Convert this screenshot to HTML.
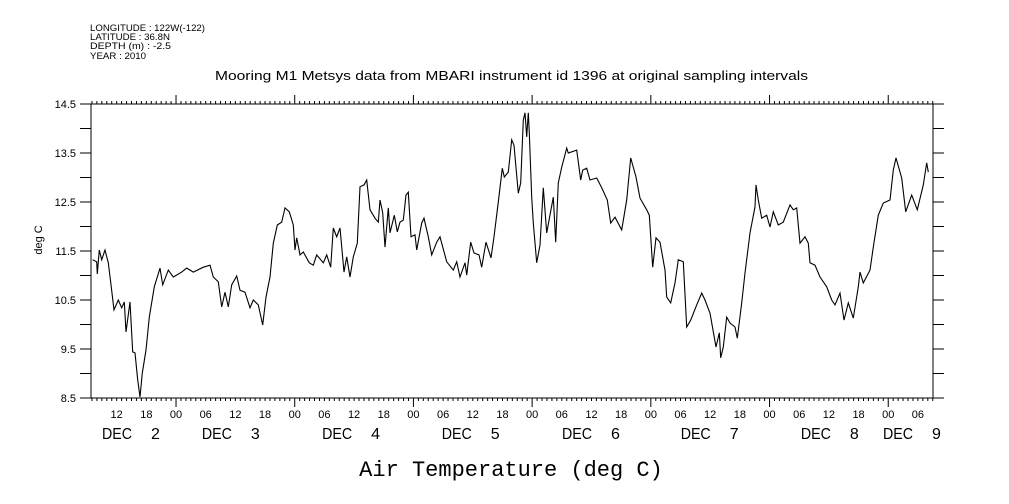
<!DOCTYPE html>
<html><head><meta charset="utf-8"><style>
body{margin:0;background:#fff;}
svg{display:block;}
text{font-family:"Liberation Sans",sans-serif;fill:#000;}
</style></head><body>
<svg id="chart" width="1009" height="504" viewBox="0 0 1009 504" xmlns="http://www.w3.org/2000/svg">
<g font-size="9">
<text x="90" y="31" textLength="115" lengthAdjust="spacingAndGlyphs">LONGITUDE : 122W(-122)</text>
<text x="90" y="40" textLength="80" lengthAdjust="spacingAndGlyphs">LATITUDE : 36.8N</text>
<text x="90" y="49" textLength="81" lengthAdjust="spacingAndGlyphs">DEPTH (m) : -2.5</text>
<text x="90" y="59" textLength="56" lengthAdjust="spacingAndGlyphs">YEAR : 2010</text>
</g>
<text x="215" y="80" font-size="13" textLength="593" lengthAdjust="spacingAndGlyphs">Mooring M1 Metsys data from MBARI instrument id 1396 at original sampling intervals</text>
<text transform="translate(42,240) rotate(-90)" font-size="11" text-anchor="middle">deg C</text>
<text x="511" y="476" font-size="22" text-anchor="middle" style="font-family:'Liberation Mono',monospace">Air Temperature (deg C)</text>
<rect x="91" y="104" width="842" height="294" fill="none" stroke="#000" stroke-width="1"/>
<g id="axes"></g>
<g id="series"></g>
</svg>
<script>
const hours=[7.16,7.97,8.09,8.49,8.98,9.64,10.31,10.86,11.46,12.33,13.02,13.55,13.89,14.70,15.24,15.71,16.26,16.72,17.19,17.93,18.60,19.61,20.76,21.31,22.44,23.45,25.15,26.16,27.50,29.52,30.87,31.54,32.55,33.24,33.91,34.57,35.26,36.27,36.94,37.95,38.96,39.63,40.64,41.53,42.20,43.00,43.67,44.48,45.37,46.04,46.91,47.71,48.06,48.40,49.07,49.74,50.95,51.76,52.44,53.78,54.47,55.28,55.80,56.49,57.16,57.96,58.51,59.18,59.85,60.66,61.20,62.01,62.55,63.22,64.23,64.90,65.24,65.79,66.26,66.92,67.27,68.14,68.74,69.29,69.96,70.50,70.97,71.51,72.32,72.66,73.68,74.14,75.01,75.70,76.71,77.38,78.73,80.06,80.75,81.42,82.43,82.77,83.58,84.25,85.26,85.80,86.68,87.69,88.29,89.16,89.97,90.38,91.18,91.87,92.34,93.20,93.69,94.22,94.56,94.90,95.23,95.43,95.91,96.24,96.93,97.59,98.26,98.95,100.28,100.77,101.30,101.98,102.99,103.31,105.01,105.82,106.23,107.03,107.70,109.06,110.07,111.20,111.89,112.76,114.11,115.12,115.93,117.01,117.81,119.17,119.69,120.38,121.04,121.85,122.86,123.21,124.02,124.88,125.55,126.57,127.25,128.06,129.28,130.29,130.95,131.96,133.18,133.84,134.13,134.65,135.34,136.01,137.02,137.48,138.37,139.04,140.05,141.06,141.26,141.73,142.41,143.42,144.09,144.76,145.77,146.78,148.13,148.80,149.49,150.16,151.17,151.84,152.18,153.19,154.20,155.56,156.57,157.24,158.25,159.06,159.93,160.94,161.95,162.29,162.96,164.31,164.98,165.99,167.00,168.36,169.02,169.57,170.72,171.53,172.74,173.87,175.09,175.77,176.10];
const temps=[11.32,11.28,11.03,11.52,11.32,11.52,11.26,10.81,10.30,10.50,10.34,10.46,9.85,10.46,9.44,9.42,8.87,8.52,9.01,9.48,10.15,10.77,11.15,10.81,11.11,10.97,11.07,11.15,11.07,11.17,11.21,10.97,10.87,10.36,10.66,10.36,10.81,10.99,10.70,10.66,10.34,10.50,10.40,9.99,10.56,10.97,11.66,12.03,12.09,12.38,12.30,12.03,11.52,11.77,11.42,11.48,11.26,11.21,11.42,11.26,11.42,11.17,11.97,11.79,11.97,11.07,11.38,10.97,11.38,11.66,12.81,12.85,12.95,12.34,12.17,12.09,12.54,12.28,11.58,12.38,11.87,12.23,11.89,12.09,12.13,12.64,12.70,11.79,11.83,11.52,12.07,12.17,11.79,11.42,11.68,11.79,11.28,11.11,11.28,10.97,11.26,11.01,11.68,11.46,11.42,11.17,11.68,11.36,11.79,12.50,13.19,13.01,13.11,13.77,13.66,12.68,12.89,14.17,14.32,13.83,14.32,13.91,12.60,12.07,11.26,11.62,12.79,11.87,12.60,11.68,12.89,13.21,13.60,13.50,13.56,12.95,13.15,13.19,12.95,12.99,12.79,12.54,12.07,12.19,11.93,12.54,13.40,13.01,12.58,12.34,12.23,11.17,11.77,11.68,11.11,10.56,10.44,10.85,11.32,11.28,9.95,10.09,10.40,10.64,10.50,10.23,9.54,9.83,9.32,9.54,10.15,10.03,9.95,9.72,10.44,11.05,11.87,12.40,12.85,12.54,12.17,12.23,11.99,12.30,12.03,12.09,12.44,12.34,12.38,11.66,11.79,11.66,11.26,11.21,10.97,10.77,10.50,10.40,10.64,10.09,10.44,10.13,10.77,11.07,10.85,11.11,11.58,12.23,12.48,12.54,13.15,13.40,12.99,12.30,12.64,12.34,12.85,13.30,13.11];
const yTickLabels=["14.5","13.5","12.5","11.5","10.5","9.5","8.5"];
const hourTickLabels=["12","18","00","06"];
const dayLabels=["2","3","4","5","6","7","8","9"];
const dayLabelHours=[14.9,35.1,59.4,83.6,107.9,131.9,156.2,172.8];

const X0=91,X1=933,H0=6.81,H1=177.05,Y0=104,Y1=398,V0=14.5,V1=8.5;
function xs(h){return X0+(h-H0)*(X1-X0)/(H1-H0);}
function ys(v){return Y0+(v-V0)*(Y1-Y0)/(V1-V0);}
const NS="http://www.w3.org/2000/svg";
const axes=document.getElementById('axes');
function mk(tag,attrs,parent){const e=document.createElementNS(NS,tag);for(const k in attrs)e.setAttribute(k,attrs[k]);parent.appendChild(e);return e;}

for(let v=V0;v>=V1-0.001;v-=0.5){
  const y=ys(v);
  const l=mk('line',{x1:80,x2:X0,y1:y,y2:y,stroke:'#000'},axes);
  
  
  const r=mk('line',{x1:X1,x2:944,y1:y,y2:y,stroke:'#000'},axes);
  
  
}
yTickLabels.forEach(s=>{
  const t=mk('text',{x:76,y:ys(parseFloat(s))+4,'font-size':11,'text-anchor':'end'},axes);
  t.textContent=s;
  
  
});
for(let h=Math.ceil(H0);h<=H1;h++){
  const x=xs(h);const major=(h%24===0);
  const len=major?9:3;
  const b=mk('line',{x1:x,x2:x,y1:Y1,y2:Y1+len,stroke:'#000'},axes);
  
  
  const t=mk('line',{x1:x,x2:x,y1:Y0,y2:Y0-len,stroke:'#000'},axes);
  
  
  if(h%6===0){
    const idx=[2,3,0,1][(h%24)/6];
    const lab=mk('text',{x:x,y:418,'font-size':11,'text-anchor':'middle'},axes);
    lab.textContent=hourTickLabels[idx];
    
    
  }
}
dayLabels.forEach((d,i)=>{
  const cx=xs(dayLabelHours[i]);
  const t1=mk('text',{x:cx-29,y:439,'font-size':16,textLength:30,lengthAdjust:'spacingAndGlyphs'},axes);
  t1.textContent='DEC';
  
  
  const t2=mk('text',{x:cx+20,y:439,'font-size':16},axes);
  t2.textContent=d;
  
  
});
const pts=hours.map((h,i)=>xs(h).toFixed(1)+','+ys(temps[i]).toFixed(1)).join(' ');
const line=mk('polyline',{points:pts,fill:'none',stroke:'#000','stroke-width':1.1},document.getElementById('series'));


</script>
</body></html>
